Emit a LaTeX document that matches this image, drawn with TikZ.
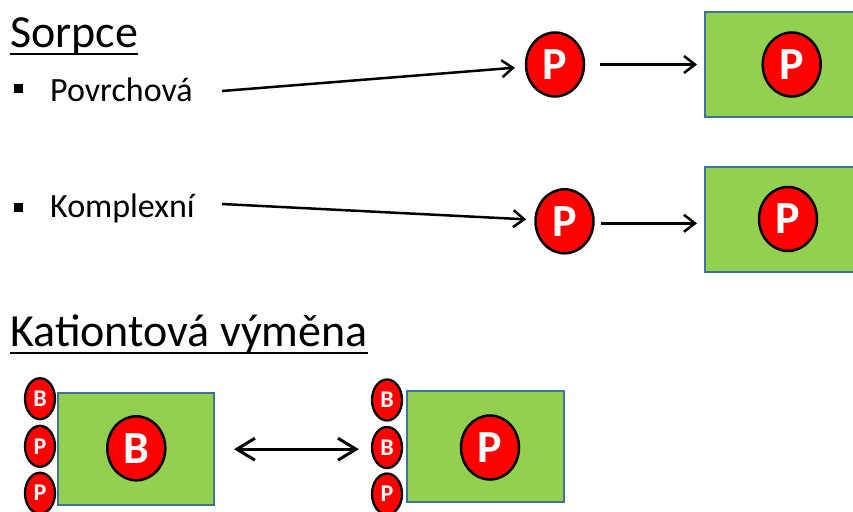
\documentclass[tikz,border=0pt]{standalone}
\usepackage{fontspec}
\setmainfont{Carlito}
\usetikzlibrary{shapes.geometric,arrows.meta}
\definecolor{pred}{HTML}{FF0000}
\definecolor{pgreen}{HTML}{92D050}
\definecolor{pblue}{HTML}{41719C}
\begin{document}
\begin{tikzpicture}[x=1pt,y=-1pt,
  title/.style={anchor=base west,inner sep=0,font=\fontsize{46}{54}\selectfont},
  item/.style={anchor=base west,inner sep=0,font=\fontsize{34}{40}\selectfont},
  bul/.style={fill=black,minimum size=9pt,inner sep=0,draw=none},
  ion/.style={ellipse,draw=black,line width=2.5pt,fill=pred,text=white,inner sep=0,minimum width=58pt,minimum height=64pt,font=\fontsize{46}{54}\selectfont\bfseries},
  sion/.style={ellipse,draw=black,line width=2.3pt,fill=pred,text=white,inner sep=0,minimum width=30pt,minimum height=41pt,font=\fontsize{24}{28}\selectfont\bfseries},
  soil/.style={rectangle,draw=pblue,line width=2pt,fill=pgreen,inner sep=0},
  arr/.style={line width=2.5pt,-{Straight Barb[length=11pt,width=17pt]}},
  dbl/.style={line width=3pt,{Straight Barb[length=18pt,width=22pt]}-{Straight Barb[length=18pt,width=22pt]}},
  uline/.style={line width=2pt}
]
\clip (0,0) rectangle (853,511);
\fill[white] (0,0) rectangle (853,511);

% titles
\node[title] (t1) at (10,47.7) {Sorpce};
\draw[uline] ([yshift=-6.6pt]t1.base west) -- ([yshift=-6.6pt]t1.base east);
\node[title] (t2) at (10,346) {Kationtová výměna};
\draw[uline] ([yshift=-6.6pt]t2.base west) -- ([yshift=-6.6pt]t2.base east);

% items
\node[bul] (b1) at (18,88) {};
\node[item] (i1) at (50,101) {Povrchová};
\node[bul] (b2) at (18,207) {};
\node[item] (i2) at (50,217) {Komplexní};

% row 1
\node[soil,minimum width=173pt,minimum height=105.6pt] (r1) at (791.5,64.5) {};
\node[ion] (q1) at (791.7,64.5) {P};
\node[ion] (p1) at (555,64.5) {P};
\coordinate (a1) at (222,91);
\draw[arr,shorten >=10pt] (a1) -- (p1);
\draw[arr,shorten <=15pt,shorten >=7pt] (p1) -- (r1);

% row 2
\node[soil,minimum width=166pt,minimum height=105pt] (r2) at (788,219.2) {};
\node[ion] (q2) at (788,219) {P};
\node[ion] (p2) at (564.5,221.3) {P};
\coordinate (a2) at (222,204);
\draw[arr,shorten >=8pt] (a2) -- (p2);
\draw[arr,shorten <=6pt,shorten >=7pt] ([yshift=-2pt]p2.east) -- ([yshift=-2pt]p2.east -| r2.west);

% bottom left
\node[soil,minimum width=155.7pt,minimum height=111.7pt] (r3) at (136.2,449.2) {};
\node[ion] (q3) at (136.3,448.3) {B};
\node[sion] (s3a) at (40,398.7) {B};
\node[sion] (s3b) at (40,446.3) {P};
\node[sion] (s3c) at (40,493.2) {P};

% bottom right
\node[soil,minimum width=157.3pt,minimum height=111pt] (r4) at (485.3,446.2) {};
\node[ion] (q4) at (490,447.5) {P};
\node[sion] (s4a) at (387,400) {B};
\node[sion] (s4b) at (387,447.5) {B};
\node[sion] (s4c) at (387,494) {P};

\draw[dbl,shorten <=19pt,shorten >=12pt] (r3.east) -- (r3.east -| s4b.west);
\end{tikzpicture}
\end{document}
